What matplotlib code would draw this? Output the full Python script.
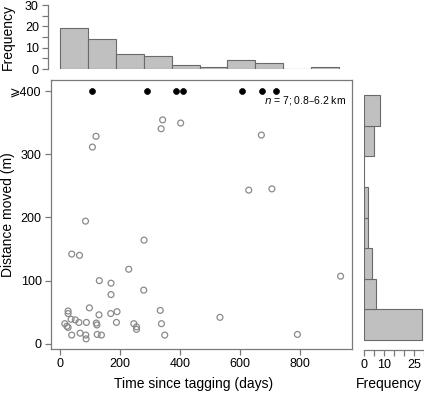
import matplotlib
matplotlib.use("Agg")
import matplotlib.pyplot as plt
from matplotlib.ticker import FixedLocator

plt.rcParams['font.family'] = ['Liberation Sans', 'DejaVu Sans']

# ---- data ----
days_open = [108, 120, 85, 337, 342, 402, 629, 671, 706, 39, 65, 280, 229, 131, 170, 170,
             279, 935, 98, 27, 27, 16, 23, 27, 37, 51, 63, 88, 121, 130, 123, 169, 190, 188,
             39, 67, 86, 87, 124, 138, 334, 246, 255, 255, 338, 349, 533, 791]
dist_open = [311, 328, 194, 340, 354, 349, 243, 330, 245, 142, 140, 164, 118, 100, 96, 78,
             85, 107, 57, 52, 48, 32, 28, 26, 39, 38, 34, 34, 33, 46, 30, 48, 51, 34,
             14, 17, 14, 8, 15, 14, 53, 32, 27, 23, 32, 14, 42, 15]
days_far = [108, 290, 387, 409, 607, 673, 720]
dist_far = [400, 400, 400, 400, 400, 400, 400]

time_bin_edges = [0, 93, 186, 279, 372, 465, 558, 651, 744, 837, 930]
time_counts = [19, 14, 7, 6, 2, 1, 4, 3, 0, 1]

dist_bin_edges = [0, 50, 100, 150, 200, 250, 300, 350, 400]
dist_counts = [29, 6, 4, 2, 2, 0, 5, 8]

x_ticks = [0, 200, 400, 600, 800]
y_ticks = [0, 100, 200, 300, 400]
y_ticklabels = ['0', '100', '200', '300', '\u2a7e400']

W, H = 424, 394
fig = plt.figure(figsize=(W / 100, H / 100), dpi=100)

def ax_px(l, t, r, b):
    return fig.add_axes([l / W, 1 - b / H, (r - l) / W, (b - t) / H])

spine_c = '#7a7a7a'
bar_face = '#c0c0c0'
bar_edge = '#6a6a6a'
tick_fs = 9
lab_fs = 10
tlen = 4.2

# ---- main scatter ----
ax = ax_px(51, 80, 352, 349)
ax.scatter(days_open, dist_open, s=18, facecolors='none', edgecolors='#8a8a8a', linewidths=0.9, zorder=3)
ax.scatter(days_far, dist_far, s=18, c='black', edgecolors='black', linewidths=0.5, zorder=3)
ax.set_xlim(-30, 973)
ax.set_ylim(-8, 417)
ax.set_xticks(x_ticks)
ax.set_yticks(y_ticks)
ax.set_yticklabels(y_ticklabels)
for s in ax.spines.values():
    s.set_color(spine_c)
    s.set_linewidth(0.9)
ax.tick_params(direction='out', length=tlen, width=0.9, color=spine_c, labelsize=tick_fs, pad=2.5)
ax.set_xlabel('Time since tagging (days)', fontsize=lab_fs)
ax.xaxis.set_label_coords(0.475, -0.105)
ax.set_ylabel('Distance moved (m)', fontsize=lab_fs)
ax.yaxis.set_label_coords(-0.118, 0.5)
ax.text(0.98, 0.925, '$\\it{n}$ = 7; 0.8\u20136.2 km', transform=ax.transAxes,
        ha='right', va='center', fontsize=7.5)

# ---- top histogram ----
axt = ax_px(51, 5, 352, 69)
widths = [time_bin_edges[i + 1] - time_bin_edges[i] for i in range(len(time_counts))]
axt.bar(time_bin_edges[:-1], time_counts, width=widths, align='edge',
        color=bar_face, edgecolor=bar_edge, linewidth=0.8)
axt.set_xlim(-30, 973)
axt.set_ylim(0, 30)
for k in ['top', 'right', 'bottom']:
    axt.spines[k].set_visible(False)
axt.spines['left'].set_color(spine_c)
axt.spines['left'].set_linewidth(0.9)
axt.spines['left'].set_position(('outward', 2))
axt.set_xticks([])
axt.yaxis.set_major_locator(FixedLocator([0, 10, 20, 30]))
axt.yaxis.set_minor_locator(FixedLocator([5, 15, 25]))
axt.tick_params(axis='y', which='both', direction='out', length=tlen, width=0.9, color=spine_c,
                labelsize=tick_fs, pad=2.5)
axt.set_ylabel('Frequency', fontsize=lab_fs)
axt.yaxis.set_label_coords(-0.12, 0.5)

# ---- side histogram ----
axs = ax_px(364.3, 80, 424.3, 350)
heights = [dist_bin_edges[i + 1] - dist_bin_edges[i] for i in range(len(dist_counts))]
axs.barh(dist_bin_edges[:-1], dist_counts, height=heights, align='edge',
         color=bar_face, edgecolor=bar_edge, linewidth=0.8)
axs.set_xlim(0, 30)
axs.set_ylim(-16.3, 424.5)
for k in ['top', 'right', 'left']:
    axs.spines[k].set_visible(False)
axs.spines['bottom'].set_color(spine_c)
axs.spines['bottom'].set_linewidth(0.9)
axs.set_yticks([])
axs.set_xticks([0, 5, 10, 15, 20, 25, 30])
axs.set_xticklabels(['0', '', '10', '', '', '25', ''])
axs.tick_params(axis='x', direction='out', length=tlen, width=0.9, color=spine_c,
                labelsize=tick_fs, pad=2.5)
axs.set_xlabel('Frequency', fontsize=lab_fs)
axs.xaxis.set_label_coords((389 - 364.3) / 60.0, -0.1)

fig.savefig('out.png', dpi=100)
